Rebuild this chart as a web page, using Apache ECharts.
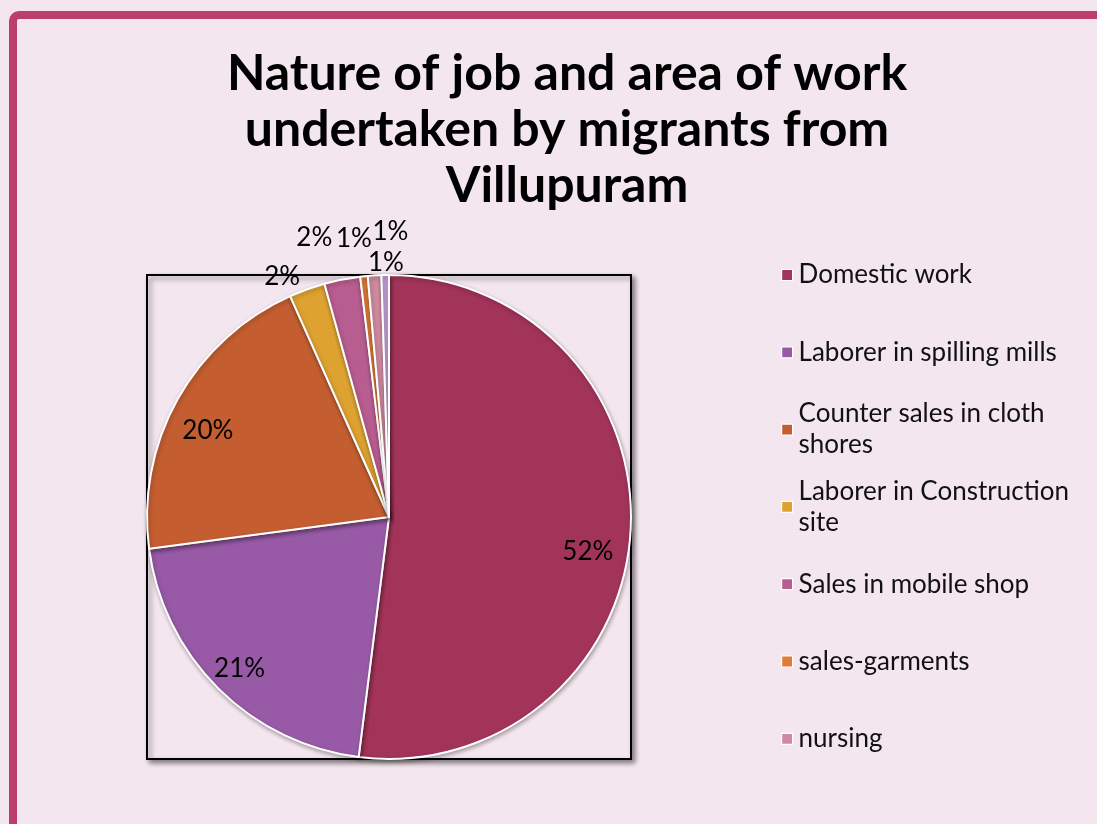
<!DOCTYPE html>
<html>
<head>
<meta charset="utf-8">
<script src="https://cdn.jsdelivr.net/npm/echarts@6/dist/echarts.min.js"></script>
<style>
html,body{margin:0;padding:0;background:#F4E6EE;}
#c{width:1097px;height:824px;}
</style>
</head>
<body>
<div id="c"></div>
<script>
// ---- data ----
var categories = ['Domestic work', 'Laborer in spilling mills', 'Counter sales in cloth shores',
  'Laborer in Construction site', 'Sales in mobile shop', 'sales-garments', 'nursing', 'Others'];
var values = [52.0, 20.9, 20.4, 2.4, 2.4, 0.5, 0.9, 0.5];
var legendNames = ['Domestic work', 'Laborer in spilling mills', 'Counter sales in cloth shores',
  'Laborer in Construction site', 'Sales in mobile shop', 'sales-garments', 'nursing'];
var legendLabels = ['Domestic work', 'Laborer in spilling mills', 'Counter sales in cloth\nshores',
  'Laborer in Construction\nsite', 'Sales in mobile shop', 'sales-garments', 'nursing'];
var titleText = 'Nature of job and area of work\nundertaken by migrants from\nVillupuram';

// ---- styles ----
var colors = ['#A23459', '#985AA7', '#C45E31', '#DEA230', '#B85D90', '#E07C37', '#CF8A9F', '#C29CD3'];
// label nudges (px) per slice, to mimic the original label placement
var labelNudges = [[-7, 22], [-4, 5], [-1, 14], [-13, 6], [-19, -22], [-3, -18], [22, -24], [6, 8]];
var FONT = 'Lato';
var cx = 389, cy = 517, R = 242;
var bigCount = 3;

var chart = echarts.init(document.getElementById('c'));

var mainData = categories.map(function (n, i) {
  return {
    name: n, value: values[i],
    itemStyle: { color: colors[i] },
    label: { show: i >= bigCount }
  };
});
var overlayData = categories.map(function (n, i) {
  return { name: n + ' ', value: values[i], label: { show: i < bigCount } };
});

var L = 31, fs = 26, legendStart = 275, legendStep = 77.3;
var legends = legendNames.map(function (n, i) {
  var lines = legendLabels[i].split('\n').length;
  var top = legendStart + i * legendStep - 10 - (lines === 1 ? L / 2 : 1.5 * L);
  return {
    data: [n],
    left: 776, top: top,
    orient: 'vertical',
    icon: 'rect', itemWidth: 11, itemHeight: 11,
    itemStyle: { borderColor: '#ffffff', borderWidth: 1.2 },
    selectedMode: false,
    formatter: function () { return legendLabels[i]; },
    textStyle: {
      fontFamily: FONT, fontSize: fs, color: '#111', lineHeight: L,
      padding: [10 + (lines - 1) * L, 0, 0, 1]
    }
  };
});

function nudge(params) {
  var d = labelNudges[params.dataIndex];
  return { dx: d[0], dy: d[1], align: 'center', verticalAlign: 'middle' };
}

chart.setOption({
  backgroundColor: '#F4E6EE',
  color: colors,
  title: {
    text: titleText,
    left: 562, top: 41, textAlign: 'center',
    textStyle: { fontFamily: FONT, fontWeight: 'bold', fontSize: 50, lineHeight: 56, color: '#000' }
  },
  legend: legends,
  graphic: [
    {
      type: 'rect', z: -10, silent: true,
      shape: { x: 13, y: 15, width: 1200, height: 900, r: 6 },
      style: { fill: 'none', stroke: '#BC3E6A', lineWidth: 8 }
    },
    {
      type: 'rect', z: -5, silent: true,
      shape: { x: cx - R, y: cy - R, width: 2 * R, height: 2 * R },
      style: { fill: '#F4E6EE', stroke: '#000', lineWidth: 2,
        shadowBlur: 5, shadowOffsetX: 3, shadowOffsetY: 3, shadowColor: 'rgba(0,0,0,0.45)' }
    }
  ],
  series: [
    {
      type: 'pie', name: 'jobs',
      center: [cx, cy], radius: [0, R],
      startAngle: 90, clockwise: true,
      avoidLabelOverlap: false,
      percentPrecision: 0,
      itemStyle: { borderColor: '#ffffff', borderWidth: 2,
        shadowBlur: 4, shadowOffsetX: 1, shadowOffsetY: 2, shadowColor: 'rgba(0,0,0,0.3)' },
      label: { position: 'outside', formatter: '{d}%', fontFamily: FONT, fontSize: fs, color: '#000' },
      labelLine: { show: false, length: 20, length2: 0 },
      labelLayout: nudge,
      emphasis: { disabled: true },
      data: mainData
    },
    {
      type: 'pie', name: 'labels', silent: true,
      center: [cx, cy], radius: [0, 2 * 0.84 * R],
      startAngle: 90, clockwise: true,
      percentPrecision: 0,
      itemStyle: { color: 'transparent', borderWidth: 0 },
      label: { position: 'inside', formatter: '{d}%', fontFamily: FONT, fontSize: fs, color: '#000' },
      labelLine: { show: false },
      labelLayout: nudge,
      emphasis: { disabled: true },
      data: overlayData
    }
  ]
});
</script>
</body>
</html>
